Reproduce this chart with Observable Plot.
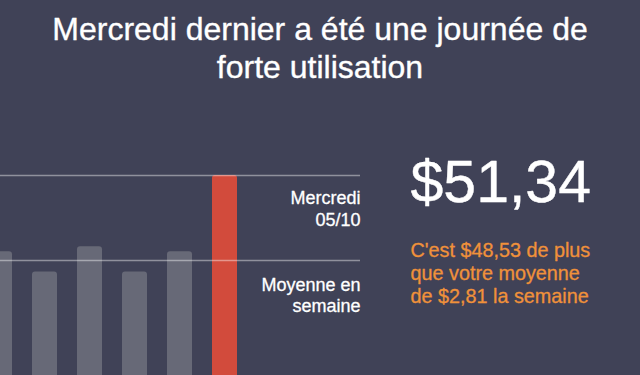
<!DOCTYPE html>
<html>
<head>
<meta charset="utf-8">
<script src="https://cdn.jsdelivr.net/npm/d3@7"></script>
<script src="https://cdn.jsdelivr.net/npm/@observablehq/plot@0.6"></script>
<style>
  html, body { margin: 0; padding: 0; background: #404257; overflow: hidden; width: 640px; height: 375px; }
  #title {
    height: 100px; box-sizing: border-box; padding-top: 11px;
    font-family: "Liberation Sans", Arial, sans-serif;
    font-size: 32px; line-height: 37.6px; color: #ffffff; text-align: center;
    -webkit-text-stroke: 0.35px #ffffff;
  }
  #chart svg { display: block; overflow: hidden; }
</style>
</head>
<body>
<div id="title">Mercredi dernier a été une journée de<br>forte utilisation</div>
<div id="chart"></div>
<script>
// ---- data ----
const days = ["Ven 30/09", "Sam 01/10", "Dim 02/10", "Lun 03/10", "Mar 04/10", "Mer 05/10"];
const amounts = [3.8, 1.9, 4.5, 1.9, 3.8, 51.34];
const highlightDay = "Mer 05/10";
const average = 2.81;
const highlightLabel = "Mercredi\n05/10";
const averageLabel = "Moyenne en\nsemaine";
const bigValue = "$51,34";
const note = "C'est $48,53 de plus\nque votre moyenne\nde $2,81 la semaine";

const data = days.map((d, i) => ({day: d, value: amounts[i]}));
const font = '"Liberation Sans", Arial, sans-serif';

const chart = Plot.plot({
  width: 640,
  height: 275,
  marginLeft: 0,
  marginRight: 280,
  marginTop: 0,
  marginBottom: 0,
  style: {background: "#404257", color: "#ffffff", fontFamily: font, overflow: "hidden"},
  x: {type: "band", domain: days, range: [-23, 247], paddingInner: 0.444, paddingOuter: 0.222, axis: null},
  y: {type: "log", domain: [average, amounts[5]], range: [160, 75], axis: null},
  marks: [
    Plot.barY(data, {
      x: "day", y1: 0.01, y2: "value", rx: 3,
      fill: d => d.day === highlightDay ? "#d24b3c" : "#676977"
    }),
    Plot.ruleY([amounts[5], average], {stroke: "#ffffff", strokeOpacity: 0.42, strokeWidth: 1.7}),
    Plot.text([highlightLabel], {
      y: [amounts[5]], text: d => d, frameAnchor: "right", textAnchor: "end",
      lineAnchor: "top", dy: 14, fontSize: 18, lineHeight: 1.17, fill: "#ffffff",
      stroke: "#ffffff", strokeWidth: 0.3
    }),
    Plot.text([averageLabel], {
      y: [average], text: d => d, frameAnchor: "right", textAnchor: "end",
      lineAnchor: "top", dy: 15.6, fontSize: 18, lineHeight: 1.17, fill: "#ffffff",
      stroke: "#ffffff", strokeWidth: 0.3
    }),
    Plot.text([bigValue], {
      text: d => d, frameAnchor: "top-left", textAnchor: "start",
      lineAnchor: "top", dx: 410, dy: 59.5, fontSize: 59, fill: "#ffffff",
      stroke: "#ffffff", strokeWidth: 0.4
    }),
    Plot.text([note], {
      text: d => d, frameAnchor: "top-left", textAnchor: "start",
      lineAnchor: "top", dx: 410, dy: 140, fontSize: 19.8, lineHeight: 1.16, fill: "#f0913a",
      stroke: "#f0913a", strokeWidth: 0.3
    })
  ]
});
document.getElementById("chart").appendChild(chart);
</script>
</body>
</html>
